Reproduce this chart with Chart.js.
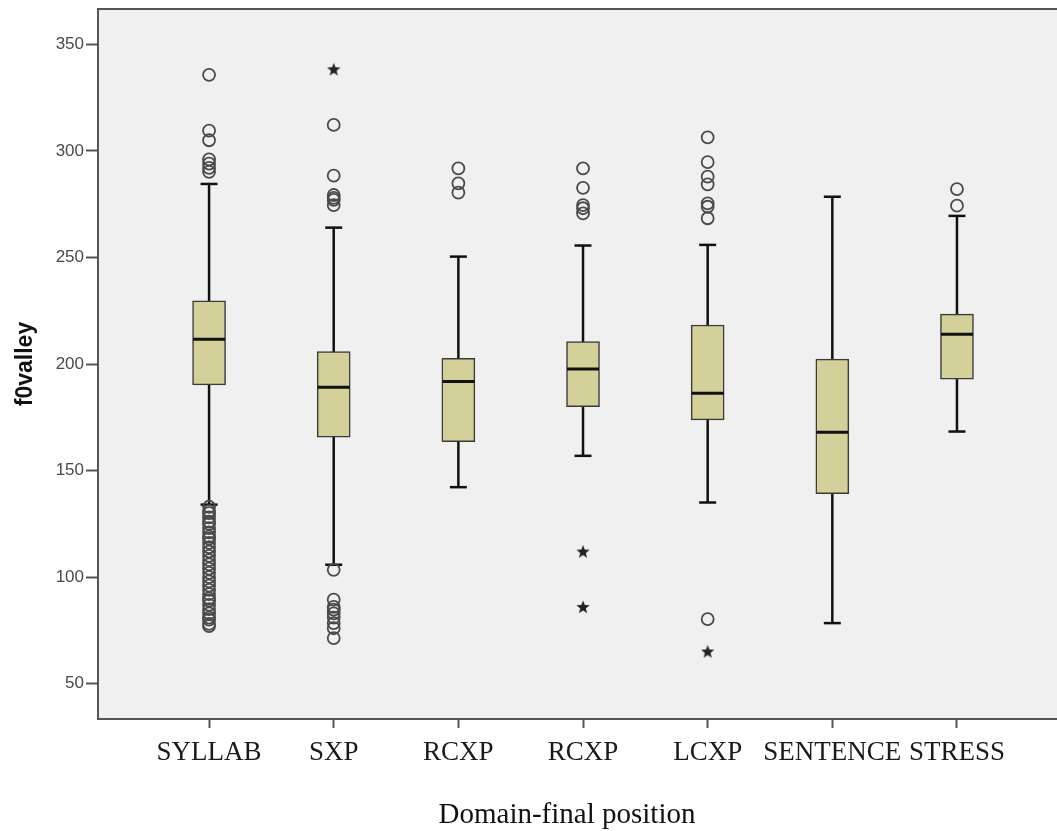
<!DOCTYPE html>
<html>
<head>
<meta charset="utf-8">
<script src="https://cdn.jsdelivr.net/npm/chart.js@4.4.1/dist/chart.umd.min.js"></script>
<style>
    html, body { margin: 0; padding: 0; background: #ffffff; overflow: hidden; }
    #wrap { position: relative; width: 1090px; height: 831px; }
</style>
</head>
<body>
<div id="wrap"><canvas id="boxChart"></canvas></div>
<script>
// ------------------------------------------------------
// Data
// ------------------------------------------------------

const categories = ["SYLLAB", "SXP", "RCXP", "RCXP", "LCXP", "SENTENCE", "STRESS"];

const q1 = [190.2, 165.7, 163.6, 180.0, 173.8, 139.1, 192.9];
const medians = [211.6, 189.1, 191.8, 197.6, 186.3, 168.0, 214.0];
const q3 = [229.6, 205.8, 202.7, 210.5, 218.3, 202.3, 223.4];
const whiskerLow = [134.0, 105.8, 142.2, 156.9, 135.0, 78.4, 168.3];
const whiskerHigh = [284.5, 264.0, 250.4, 255.6, 255.9, 278.5, 269.5];

const outliers = [
    [335.7, 309.5, 305.0, 296.0, 294.0, 292.0, 290.2,
     133, 131, 130, 128, 126, 125, 123, 121, 119, 118, 116, 114, 112, 110,
     108, 106, 104, 102, 100, 98, 96, 94, 92, 90, 89, 87, 85, 83, 81, 80, 78, 77],
    [312.2, 288.4, 279.3, 278.0, 277.0, 274.6, 103.4, 89.4, 86.0, 84.7, 83.0, 81.0, 78.4, 76.0, 71.4],
    [291.8, 284.8, 280.4],
    [291.8, 282.7, 274.6, 273.1, 270.7],
    [306.4, 294.7, 287.9, 284.3, 275.4, 273.8, 268.4, 80.3],
    [],
    [282.1, 274.3]
];

const extremes = [[], [338.3], [], [112.0, 86.0], [65.1], [], []];

const yTicks = [50, 100, 150, 200, 250, 300, 350];

const yTitle = "f0valley";
const xTitle = "Domain-final position";

// ------------------------------------------------------
// Helpers
// ------------------------------------------------------

function makeStar(size, color) {
    let c = document.createElement("canvas");
    c.width = size;
    c.height = size;
    let g = c.getContext("2d");
    let cx = size / 2, cy = size / 2 + 0.5;
    let outer = size / 2, inner = outer * 0.42;
    g.beginPath();
    for (let i = 0; i < 10; i++) {
        let r = i % 2 === 0 ? outer : inner;
        let a = -Math.PI / 2 + i * Math.PI / 5;
        g.lineTo(cx + r * Math.cos(a), cy + r * Math.sin(a));
    }
    g.closePath();
    g.fillStyle = color;
    g.fill();
    return c;
}

const pos = categories.map((c, i) => i + 1);

const boxData = pos.map((x, i) => ({ x: x, y: [q1[i], q3[i]] }));
const medianData = pos.map((x, i) => ({ x: x, y: medians[i] }));
const capData = [];
const whiskerData = [];
pos.forEach((x, i) => {
    capData.push({ x: x, y: whiskerLow[i] });
    capData.push({ x: x, y: whiskerHigh[i] });
    whiskerData.push({ x: x, y: whiskerLow[i] });
    whiskerData.push({ x: x, y: whiskerHigh[i] });
    whiskerData.push({ x: x, y: null });
});
const outlierData = [];
outliers.forEach((list, i) => list.forEach(v => outlierData.push({ x: pos[i], y: v })));
const extremeData = [];
extremes.forEach((list, i) => list.forEach(v => extremeData.push({ x: pos[i], y: v })));

// ------------------------------------------------------
// Plot background / frame / x title
// ------------------------------------------------------

const framePlugin = {
    id: "frame",
    beforeDraw(chart) {
        const { ctx, chartArea: a } = chart;
        ctx.save();
        ctx.fillStyle = "#f0f0f0";
        ctx.fillRect(a.left, a.top, a.right - a.left, a.bottom - a.top);
        ctx.restore();
    },
    afterDraw(chart) {
        const { ctx, chartArea: a } = chart;
        ctx.save();
        ctx.strokeStyle = "#555555";
        ctx.lineWidth = 2;
        ctx.strokeRect(a.left, a.top, a.right - a.left, a.bottom - a.top);
        ctx.fillStyle = "#111111";
        ctx.font = "29px 'Liberation Serif', 'Times New Roman', serif";
        ctx.textAlign = "center";
        ctx.textBaseline = "alphabetic";
        ctx.fillText(xTitle, 567, 823);
        ctx.restore();
    }
};

// ------------------------------------------------------
// Chart
// ------------------------------------------------------

new Chart(document.getElementById("boxChart"), {
    type: "bar",
    data: {
        datasets: [
            {
                type: "scatter",
                data: extremeData,
                pointStyle: makeStar(14, "#222222"),
                pointRadius: 7,
                order: 1
            },
            {
                type: "scatter",
                data: outlierData,
                pointStyle: "circle",
                pointRadius: 6,
                backgroundColor: "rgba(0,0,0,0)",
                borderColor: "#4a4a4a",
                borderWidth: 1.8,
                order: 2
            },
            {
                type: "scatter",
                data: medianData,
                pointStyle: "line",
                pointRadius: 16,
                borderColor: "#111111",
                borderWidth: 3,
                order: 3
            },
            {
                type: "bar",
                data: boxData,
                backgroundColor: "#d4d09a",
                borderColor: "#3a3a3a",
                borderWidth: 1.5,
                borderSkipped: false,
                barThickness: 33,
                order: 4
            },
            {
                type: "scatter",
                data: capData,
                pointStyle: "line",
                pointRadius: 8.5,
                borderColor: "#111111",
                borderWidth: 2.5,
                order: 5
            },
            {
                type: "line",
                data: whiskerData,
                borderColor: "#111111",
                borderWidth: 2.5,
                pointRadius: 0,
                spanGaps: false,
                order: 6
            }
        ]
    },
    options: {
        responsive: true,
        maintainAspectRatio: false,
        animation: false,
        events: [],
        layout: { autoPadding: false, padding: { top: 9, right: 10, left: 0, bottom: 0 } },
        plugins: {
            legend: { display: false },
            tooltip: { enabled: false }
        },
        scales: {
            x: {
                type: "linear",
                min: 0.109,
                max: 7.987,
                offset: false,
                afterBuildTicks: axis => { axis.ticks = pos.map(v => ({ value: v })); },
                afterFit: axis => {
                    axis.height = 112;
                    axis.paddingLeft = 0;
                    axis.paddingRight = 0;
                },
                border: { display: false },
                grid: {
                    offset: false,
                    drawOnChartArea: false,
                    drawTicks: true,
                    tickLength: 9,
                    tickWidth: 2,
                    tickColor: "#555555"
                },
                ticks: {
                    autoSkip: false,
                    maxRotation: 0,
                    padding: 9,
                    color: "#1a1a1a",
                    font: { family: "'Liberation Serif', 'Times New Roman', serif", size: 27 },
                    callback: v => categories[v - 1]
                }
            },
            y: {
                min: 33.4,
                max: 366.6,
                afterBuildTicks: axis => { axis.ticks = yTicks.map(v => ({ value: v })); },
                afterFit: axis => {
                    axis.width = 98;
                    axis.paddingTop = 0;
                    axis.paddingBottom = 0;
                },
                border: { display: false },
                grid: {
                    drawOnChartArea: false,
                    drawTicks: true,
                    tickLength: 12,
                    tickWidth: 2,
                    tickColor: "#555555"
                },
                ticks: {
                    padding: 2,
                    color: "#4a4a4a",
                    font: { family: "'Liberation Sans', Arial, sans-serif", size: 17 }
                },
                title: {
                    display: true,
                    text: yTitle,
                    color: "#111111",
                    padding: { top: 12, bottom: 0 },
                    font: { family: "'Liberation Sans', Arial, sans-serif", size: 23, weight: "bold" }
                }
            }
        }
    },
    plugins: [framePlugin]
});
</script>
</body>
</html>
